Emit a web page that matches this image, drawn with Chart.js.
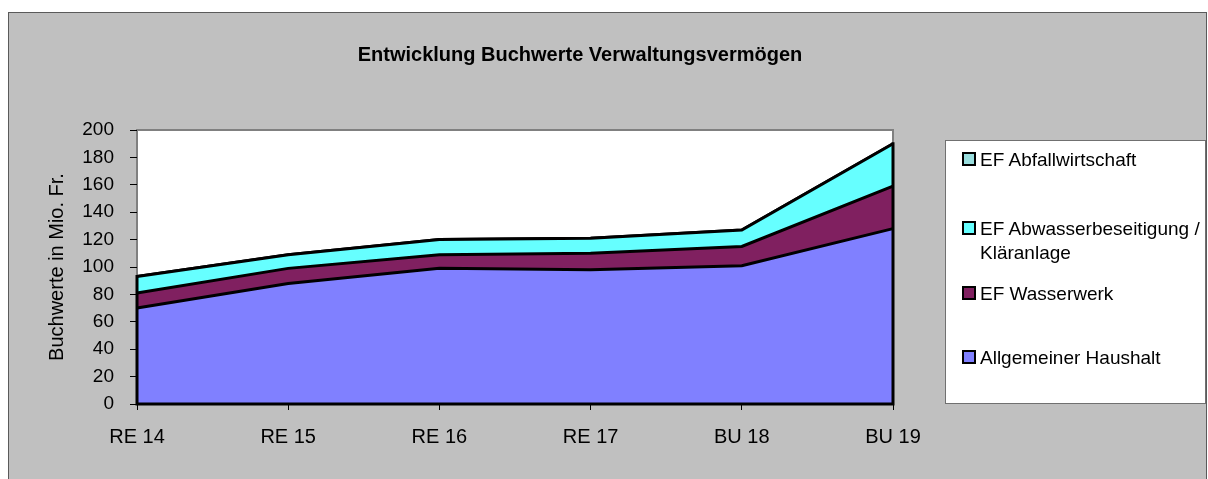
<!DOCTYPE html>
<html><head><meta charset="utf-8">
<script src="https://cdn.jsdelivr.net/npm/chart.js@4/dist/chart.umd.min.js"></script>
<style>
body{margin:0;background:#fff;width:1208px;height:479px;overflow:hidden;position:relative;font-family:"Liberation Sans",Arial,sans-serif;}
#frame{position:absolute;left:8px;top:12px;width:1197px;height:480px;background:#c0c0c0;border:1px solid #5a5a5a;}
#c{position:absolute;left:0;top:0;}
#title{position:absolute;left:0;top:42px;width:1160px;text-align:center;font:bold 20px/24px "Liberation Sans",Arial,sans-serif;color:#000;}
#legend{position:absolute;left:945px;top:140px;width:261px;height:264px;background:#fff;border:1px solid #707070;box-sizing:border-box;}
.li{position:absolute;left:34px;width:232px;font:19px/23.5px "Liberation Sans",Arial,sans-serif;color:#000;}
.sw{position:absolute;left:16px;width:14px;height:14px;border:2px solid #000;box-sizing:border-box;}
</style>
</head><body>
<div id="frame"></div>
<canvas id="c" width="1208" height="479"></canvas>
<div id="title">Entwicklung Buchwerte Verwaltungsvermögen</div>
<div id="legend"></div>
<script>
const categories = ['RE 14','RE 15','RE 16','RE 17','BU 18','BU 19'];
const allgemeinerHaushalt = [70, 88, 99, 98, 101, 128];
const efWasserwerk = [11, 11, 10, 12, 14, 31];
const efAbwasser = [12, 10, 11, 11, 12, 31];
const efAbfall = [0, 0, 0, 0, 0, 0];
const seriesNames = ['Allgemeiner Haushalt','EF Wasserwerk','EF Abwasserbeseitigung / Kläranlage','EF Abfallwirtschaft'];
const seriesColors = ['#8080ff','#802060','#66ffff','#99dddd'];
const seriesValues = [allgemeinerHaushalt, efWasserwerk, efAbwasser, efAbfall];
const yTitle = 'Buchwerte in Mio. Fr.';

// HTML legend (top series first)
const legendTops = [[7,11],[76,80],[141,145],[205,209]];
const legend = document.getElementById('legend');
for (let k = 0; k < 4; k++) {
  const i = 3 - k;
  const sw = document.createElement('div');
  sw.className = 'sw'; sw.style.top = legendTops[k][1] + 'px'; sw.style.background = seriesColors[i];
  const t = document.createElement('div');
  t.className = 'li'; t.style.top = legendTops[k][0] + 'px'; t.textContent = seriesNames[i];
  legend.appendChild(sw); legend.appendChild(t);
}

const bgPlugin = {
  id: 'bg',
  beforeDraw(chart) {
    const {ctx, chartArea: a} = chart;
    ctx.save();
    ctx.fillStyle = '#fff';
    ctx.fillRect(a.left, a.top, a.right - a.left, a.bottom - a.top);
    ctx.strokeStyle = '#808080';
    ctx.lineWidth = 2;
    ctx.strokeRect(a.left, a.top, a.right - a.left, a.bottom - a.top);
    ctx.restore();
  }
};
const edgePlugin = {
  id: 'edges',
  afterDatasetsDraw(chart) {
    const ctx = chart.ctx;
    const top = chart.getDatasetMeta(chart.data.datasets.length - 1).data;
    const yS = chart.scales.y;
    const y0 = yS.getPixelForValue(0);
    const first = top[0], last = top[top.length - 1];
    ctx.save();
    ctx.strokeStyle = '#000';
    ctx.lineWidth = 3;
    ctx.lineCap = 'square';
    ctx.beginPath();
    ctx.moveTo(first.x, first.y); ctx.lineTo(first.x, y0);
    ctx.lineTo(last.x, y0); ctx.lineTo(last.x, last.y);
    ctx.stroke();
    ctx.restore();
  }
};

new Chart(document.getElementById('c'), {
  type: 'line',
  data: {
    labels: categories,
    datasets: seriesValues.map((v, i) => ({
      label: seriesNames[i],
      data: v,
      backgroundColor: seriesColors[i],
      borderColor: '#000',
      borderWidth: 3,
      fill: i === 0 ? 'origin' : '-1',
      pointRadius: 0,
      tension: 0
    }))
  },
  options: {
    responsive: false,
    animation: false,
    devicePixelRatio: 1,
    layout: {padding: {left: 0, top: 130, right: 315, bottom: 0}},
    plugins: {legend: {display: false}, tooltip: {enabled: false}, title: {display: false}},
    scales: {
      x: {
        offset: false,
        grid: {drawOnChartArea: false, tickLength: 6, color: '#000', tickColor: '#000'},
        border: {display: false},
        ticks: {padding: 15, color: '#000', font: {family: "'Liberation Sans', sans-serif", size: 20}, maxRotation: 0, autoSkip: false},
        afterFit(s) { s.height = 75; }
      },
      y: {
        stacked: true, min: 0, max: 200,
        ticks: {stepSize: 20, padding: 16, color: '#000', font: {family: "'Liberation Sans', sans-serif", size: 19}},
        grid: {drawOnChartArea: false, tickLength: 7, color: '#000', tickColor: '#000'},
        border: {display: false},
        title: {display: true, text: yTitle, color: '#000', font: {family: "'Liberation Sans', sans-serif", size: 20}, padding: {top: 45, bottom: 0}},
        afterFit(s) { s.width = 137; }
      }
    }
  },
  plugins: [bgPlugin, edgePlugin]
});
</script>
</body></html>
